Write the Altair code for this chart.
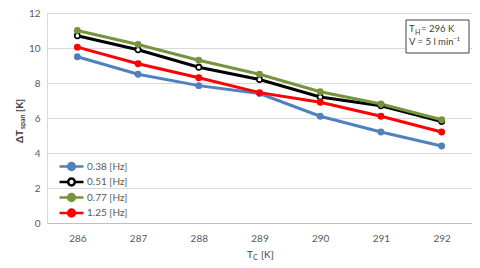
import altair as alt
import pandas as pd

temps = ["286", "287", "288", "289", "290", "291", "292"]
series_names = ["0.38 [Hz]", "0.51 [Hz]", "0.77 [Hz]", "1.25 [Hz]"]
s038 = [9.5, 8.5, 7.85, 7.4, 6.1, 5.2, 4.4]
s051 = [10.7, 9.9, 8.9, 8.2, 7.2, 6.7, 5.8]
s077 = [11.0, 10.2, 9.3, 8.5, 7.5, 6.8, 5.9]
s125 = [10.05, 9.1, 8.3, 7.45, 6.9, 6.1, 5.2]
stroke_colors = ["#4f81bd", "#000000", "#77933c", "#ff0000"]
fill_colors = ["#4f81bd", "#ffffff", "#77933c", "#ff0000"]
y_ticks = [0, 2, 4, 6, 8, 10, 12]

rows = []
for name, vals in zip(series_names, [s038, s051, s077, s125]):
    for t, v in zip(temps, vals):
        rows.append({"Tc": t, "dT": v, "series": name})
df = pd.DataFrame(rows)

FONT = "Lato"
W, H = 425, 210

legend_path = ("M-3,0H-0.85M0.85,0H3M-0.85,0A0.85,0.85,0,1,1,0.85,0"
               "A0.85,0.85,0,1,1,-0.85,0Z")


def make_legend():
    return alt.Legend(orient="none", legendX=19, legendY=148,
                      title=None, symbolType=legend_path,
                      symbolSize=64, symbolStrokeWidth=2.5,
                      symbolOffset=0, labelOffset=10,
                      labelFontSize=10, labelColor="#595959",
                      labelFont=FONT, rowPadding=-1.5, padding=0)


x = alt.X("Tc:O", sort=temps, title=None,
          scale=alt.Scale(type="point", padding=0.5),
          axis=alt.Axis(labelAngle=0, ticks=False, domainColor="#bfbfbf",
                        labelPadding=10, grid=False))
y = alt.Y("dT:Q", title=None,
          scale=alt.Scale(domain=[0, 12], nice=False, zero=True),
          axis=alt.Axis(values=y_ticks, ticks=False, domainColor="#d9d9d9",
                        gridColor="#d9d9d9", labelPadding=7))
stroke = alt.Stroke("series:N",
                    scale=alt.Scale(domain=series_names, range=stroke_colors),
                    legend=make_legend())
fill = alt.Fill("series:N",
                scale=alt.Scale(domain=series_names, range=fill_colors),
                legend=make_legend())

base = alt.Chart(df)
lines = base.mark_line(strokeWidth=3).encode(x=x, y=y, stroke=stroke)
points = base.mark_point(size=28, strokeWidth=1.6, opacity=1, fillOpacity=1).encode(
    x=x, y=y, stroke=stroke, fill=fill)

one = pd.DataFrame({"a": [0]})


def txt(s, xp, yp, size=9.5, bold=False, angle=0, align="left", color="#404040",
        baseline="alphabetic"):
    return alt.Chart(one).mark_text(
        text=s, font=FONT, fontSize=size, fontWeight="bold" if bold else "normal",
        angle=angle, align=align, baseline=baseline, color=color
    ).encode(x=alt.value(xp), y=alt.value(yp))


box = alt.Chart(one).mark_rect(fill="white", stroke="#404040", strokeWidth=1).encode(
    x=alt.value(359), x2=alt.value(422), y=alt.value(7), y2=alt.value(40))

annot = [
    box,
    txt("T", 362, 19),
    txt("H", 368, 22, size=7),
    txt("= 296 K", 374, 19),
    txt("V = 5 l min\u207b\u00b9", 362, 32),
    # x title
    txt("T", 200, 245, size=10),
    txt("C", 206, 247, size=7),
    txt("[K]", 214, 245, size=10),
    # y title (rotated)
    txt("\u0394T", -27, 130, size=10, bold=True, angle=270, baseline="middle"),
    txt("span", -24, 116, size=7, bold=True, angle=270, baseline="middle"),
    txt("[K]", -27, 99, size=10, bold=True, angle=270, baseline="middle"),
]

chart = alt.layer(lines, points, *annot).properties(
    width=W, height=H, autosize=alt.AutoSizeParams(type="none"),
    padding={"left": 39, "top": 5, "right": 0, "bottom": 37}
).configure_view(stroke="#d9d9d9").configure_axis(
    labelFont=FONT, labelFontSize=10, labelColor="#595959"
).resolve_scale(stroke="shared", fill="shared")

chart.save("out.html", embed_options={"renderer": "svg", "actions": False})
